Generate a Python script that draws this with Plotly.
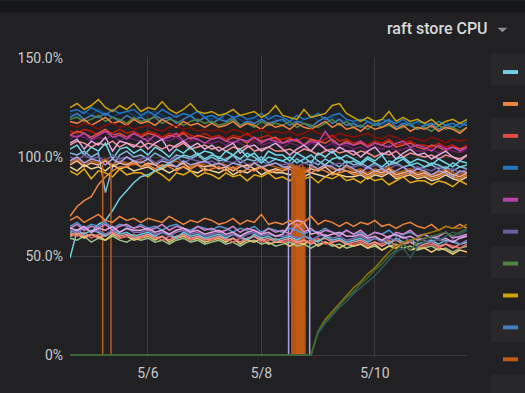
import pandas as pd
import plotly.graph_objects as go

# ---------------- data ----------------
times = pd.date_range("2019-05-04 15:00", periods=57, freq="3h")
x_tick_vals = ["2019-05-06", "2019-05-08", "2019-05-10"]
x_tick_text = ["5/6", "5/8", "5/10"]
y_tick_vals = [0, 50, 100, 150]
y_tick_text = ["0%", "50.0%", "100.0%", "150.0%"]

# upper band
yellow_top = [125, 127, 124, 126, 129, 125, 123, 126, 124, 127,
              123, 125, 124, 128, 124, 122, 124, 127, 123, 122,
              123, 121, 122, 124, 121, 122, 123, 120, 122, 126,
              121, 120, 119, 124, 120, 121, 122, 126, 127, 122,
              120, 118, 120, 118, 119, 123, 118, 120, 118, 119,
              117, 119, 116, 118, 119, 117, 119]
blue_a = [123, 124, 122, 125, 123, 121, 124, 122, 123, 124,
          121, 123, 121, 124, 122, 120, 122, 121, 123, 120,
          121, 119, 122, 120, 121, 119, 120, 122, 119, 121,
          120, 118, 121, 119, 120, 122, 119, 121, 122, 119,
          118, 119, 118, 116, 119, 118, 117, 119, 116, 118,
          117, 115, 118, 116, 117, 115, 118]
blue_dark = [122, 120, 123, 121, 124, 122, 120, 122, 123, 121,
             120, 122, 123, 121, 119, 121, 122, 120, 118, 120,
             119, 121, 118, 120, 119, 117, 120, 118, 121, 119,
             118, 120, 117, 119, 121, 118, 117, 120, 119, 118,
             116, 118, 120, 117, 116, 118, 119, 116, 118, 117,
             115, 117, 116, 118, 115, 117, 116]
blue_b = [120, 122, 119, 121, 120, 122, 120, 118, 121, 119,
          120, 118, 121, 119, 120, 117, 119, 121, 118, 120,
          117, 119, 118, 120, 116, 118, 117, 119, 117, 118,
          119, 116, 118, 117, 115, 118, 120, 117, 119, 116,
          117, 115, 118, 116, 117, 119, 115, 117, 116, 114,
          116, 117, 114, 116, 115, 117, 116]
green_a = [119, 120, 118, 119, 121, 118, 120, 119, 117, 120,
           118, 119, 120, 117, 119, 118, 116, 118, 119, 117,
           118, 116, 117, 119, 116, 117, 115, 118, 116, 117,
           116, 118, 115, 117, 116, 115, 117, 119, 116, 118,
           115, 116, 114, 117, 115, 116, 114, 115, 117, 114,
           115, 113, 116, 114, 115, 113, 115]
orange_a = [118, 117, 119, 116, 118, 120, 117, 118, 116, 119,
            117, 118, 116, 119, 117, 115, 118, 116, 117, 115,
            117, 115, 116, 118, 115, 117, 116, 114, 117, 115,
            116, 114, 117, 115, 114, 116, 118, 115, 117, 114,
            115, 113, 116, 114, 115, 117, 114, 116, 113, 115,
            114, 116, 113, 115, 114, 112, 115]
red_dark = [116, 115, 117, 116, 114, 116, 117, 115, 116, 114,
            115, 116, 114, 113, 115, 116, 114, 115, 113, 114,
            113, 114, 112, 114, 113, 111, 113, 114, 112, 113,
            112, 113, 111, 112, 114, 112, 111, 110, 112, 111,
            110, 111, 112, 110, 109, 111, 110, 108, 110, 109,
            108, 110, 109, 107, 109, 108, 109]
red_b = [113, 112, 114, 113, 111, 113, 112, 114, 112, 113,
         111, 113, 112, 110, 112, 111, 113, 111, 110, 112,
         110, 111, 109, 111, 110, 112, 109, 110, 111, 109,
         109, 110, 108, 110, 109, 107, 109, 111, 108, 109,
         107, 108, 106, 108, 107, 109, 106, 107, 108, 106,
         106, 105, 107, 105, 106, 104, 106]
red_a = [111, 113, 112, 110, 112, 114, 111, 112, 110, 112,
         110, 112, 111, 109, 111, 110, 112, 109, 111, 110,
         109, 110, 108, 110, 109, 107, 110, 108, 109, 110,
         107, 109, 108, 106, 109, 108, 107, 109, 106, 108,
         106, 107, 105, 107, 106, 108, 105, 106, 107, 105,
         104, 106, 105, 103, 105, 104, 105]
magenta_a = [111, 110, 112, 109, 111, 113, 110, 111, 109, 112,
             110, 108, 111, 109, 110, 112, 108, 110, 109, 107,
             109, 110, 108, 107, 109, 108, 110, 107, 109, 108,
             107, 108, 109, 106, 108, 107, 113, 108, 106, 107,
             106, 108, 105, 107, 106, 105, 107, 108, 105, 106,
             105, 103, 106, 104, 105, 103, 105]
magenta_dark = [109, 111, 110, 108, 110, 109, 111, 108, 110, 109,
                108, 110, 107, 109, 108, 110, 107, 108, 109, 107,
                107, 108, 106, 108, 107, 105, 108, 106, 107, 108,
                105, 107, 106, 104, 107, 106, 105, 107, 104, 106,
                104, 105, 103, 105, 104, 106, 103, 104, 105, 103,
                103, 104, 102, 104, 103, 102, 104]
pink_light = [107, 109, 104, 108, 106, 110, 103, 108, 107, 105,
              108, 104, 107, 109, 103, 106, 108, 105, 107, 104,
              106, 103, 105, 107, 102, 105, 106, 103, 105, 107,
              104, 101, 104, 106, 103, 107, 104, 102, 105, 103,
              103, 100, 103, 105, 101, 103, 99, 102, 104, 101,
              102, 99, 101, 103, 100, 98, 101]
salmon_a = [106, 108, 107, 105, 107, 106, 108, 105, 107, 106,
            105, 107, 106, 104, 106, 105, 107, 104, 105, 106,
            104, 105, 103, 105, 104, 106, 103, 104, 105, 103,
            103, 104, 102, 104, 103, 101, 103, 104, 102, 103,
            101, 103, 102, 100, 102, 101, 103, 100, 102, 101,
            100, 101, 99, 101, 100, 99, 101]
cyan_light = [104, 106, 101, 105, 103, 107, 99, 104, 105, 102,
              104, 101, 105, 103, 100, 104, 102, 105, 101, 103,
              102, 99, 103, 101, 104, 100, 102, 98, 103, 101,
              101, 98, 102, 100, 97, 102, 100, 103, 99, 101,
              99, 97, 100, 98, 101, 96, 99, 100, 97, 99,
              98, 96, 99, 97, 95, 98, 97]
cyan_ramp = [49, 63, 64, 62, 66, 68, 73, 79, 83, 87,
             90, 91, 93, 95, 97, 99, 101, 100, 102, 99,
             101, 100, 98, 101, 99, 102, 100, 97, 100, 99,
             98, 100, 97, 99, 101, 98, 96, 99, 100, 97,
             98, 96, 99, 97, 95, 98, 97, 99, 96, 97,
             95, 97, 96, 94, 97, 95, 96]
blue_light = [102, 101, 103, 100, 102, 82, 95, 101, 103, 100,
              101, 99, 102, 100, 98, 101, 100, 99, 101, 98,
              100, 98, 99, 101, 97, 99, 98, 100, 97, 99,
              98, 96, 99, 97, 98, 96, 99, 97, 95, 98,
              96, 97, 95, 97, 94, 96, 97, 95, 96, 94,
              95, 96, 94, 95, 93, 95, 94]
purple_a = [100, 98, 101, 99, 100, 98, 101, 99, 100, 98,
            99, 100, 97, 99, 98, 100, 97, 99, 98, 97,
            98, 96, 98, 97, 99, 96, 97, 98, 96, 97,
            96, 97, 95, 97, 96, 98, 95, 96, 97, 95,
            95, 96, 94, 96, 95, 94, 96, 95, 93, 95,
            94, 93, 95, 93, 94, 92, 94]
lavender = [98, 100, 97, 99, 98, 96, 99, 97, 100, 98,
            97, 99, 96, 98, 97, 95, 98, 96, 97, 98,
            96, 97, 95, 97, 96, 94, 97, 95, 96, 97,
            95, 0, 0, 0, 96, 94, 96, 95, 93, 96,
            94, 92, 95, 93, 94, 92, 93, 95, 92, 94,
            93, 91, 93, 92, 90, 93, 92]
lavender_edge_times = ["2019-05-08 11:25", "2019-05-08 11:30",
                       "2019-05-08 20:25", "2019-05-08 20:30"]
lavender_edge_vals = [95, 0, 0, 96]
orange_dark = [97, 99, 96, 98, 97, 99, 96, 98, 97, 96,
               98, 96, 97, 95, 97, 98, 96, 95, 97, 96,
               95, 97, 96, 94, 96, 95, 97, 94, 96, 95,
               94, 96, 95, 93, 95, 94, 96, 94, 93, 95,
               93, 94, 92, 94, 93, 95, 92, 93, 94, 92,
               93, 91, 92, 94, 92, 91, 93]
orange_drop_times = ["2019-05-05 04:50", "2019-05-05 08:20",
                     "2019-05-08 12:55", "2019-05-08 13:20", "2019-05-08 13:50",
                     "2019-05-08 14:15", "2019-05-08 14:45", "2019-05-08 15:10",
                     "2019-05-08 15:40", "2019-05-08 16:05", "2019-05-08 16:35",
                     "2019-05-08 17:00", "2019-05-08 17:30", "2019-05-08 17:55",
                     "2019-05-08 18:25"]
orange_drop_tops = [97, 96, 95, 96, 94, 95, 96, 94, 95, 96, 95, 94, 96, 95, 95]
orange_light = [96, 98, 95, 97, 96, 98, 95, 97, 96, 98,
                95, 97, 96, 94, 96, 95, 97, 94, 96, 95,
                96, 94, 95, 93, 95, 96, 94, 95, 93, 94,
                93, 95, 94, 92, 94, 93, 95, 92, 94, 93,
                92, 93, 91, 93, 92, 94, 91, 92, 93, 91,
                92, 90, 91, 93, 91, 90, 92]
orange_ramp = [70, 75, 78, 80, 86, 90, 93, 95, 95, 97,
               95, 96, 94, 96, 95, 93, 95, 94, 96, 93,
               94, 95, 93, 95, 92, 94, 93, 95, 92, 93,
               93, 94, 91, 93, 92, 94, 93, 91, 92, 93,
               91, 92, 90, 92, 91, 93, 90, 91, 92, 90,
               91, 89, 90, 92, 90, 89, 91]
yellow_pale = [95, 93, 96, 94, 95, 93, 96, 94, 95, 93,
               94, 95, 93, 94, 92, 94, 95, 93, 92, 94,
               93, 92, 94, 91, 93, 92, 94, 91, 93, 92,
               92, 91, 93, 90, 92, 91, 90, 92, 91, 90,
               90, 91, 89, 91, 90, 92, 89, 90, 91, 89,
               90, 88, 89, 91, 89, 88, 90]
yellow_low = [93, 91, 94, 89, 93, 92, 90, 94, 91, 92,
              92, 90, 93, 91, 88, 92, 91, 93, 90, 92,
              91, 89, 92, 90, 91, 88, 91, 90, 92, 89,
              90, 88, 91, 89, 90, 87, 90, 89, 91, 88,
              89, 87, 90, 88, 89, 86, 88, 90, 87, 88,
              88, 86, 88, 87, 85, 88, 86]

# lower band
low_orange = [68, 70, 67, 69, 71, 68, 67, 70, 68, 69,
              67, 69, 68, 67, 70, 68, 66, 68, 67, 69,
              68, 66, 67, 69, 66, 68, 67, 71, 66, 67,
              66, 68, 65, 67, 70, 66, 68, 67, 65, 67,
              65, 67, 66, 68, 65, 66, 64, 66, 67, 65,
              64, 66, 63, 65, 64, 66, 64]
low_blue = [65, 67, 64, 66, 65, 67, 64, 66, 65, 64,
            66, 64, 65, 63, 65, 66, 64, 63, 65, 64,
            63, 65, 64, 62, 64, 63, 65, 62, 64, 63,
            62, 64, 63, 61, 63, 62, 64, 62, 61, 63,
            61, 62, 60, 62, 61, 63, 60, 61, 62, 60,
            61, 59, 60, 62, 60, 59, 61]
low_pink = [64, 66, 63, 65, 64, 66, 63, 65, 66, 64,
            65, 63, 64, 66, 63, 65, 64, 62, 65, 63,
            64, 62, 63, 65, 62, 64, 63, 61, 64, 62,
            63, 61, 66, 62, 64, 61, 63, 62, 60, 63,
            61, 63, 60, 62, 61, 59, 62, 61, 63, 60,
            61, 59, 60, 62, 59, 60, 61]
low_purple = [63, 62, 64, 62, 63, 61, 63, 62, 64, 62,
              62, 63, 61, 62, 60, 62, 63, 61, 62, 60,
              61, 62, 60, 61, 59, 61, 62, 60, 61, 60,
              60, 61, 59, 60, 58, 60, 61, 59, 60, 58,
              59, 60, 58, 59, 57, 59, 58, 60, 57, 59,
              58, 57, 59, 57, 58, 56, 58]
low_red = [61, 60, 62, 59, 61, 60, 62, 59, 60, 61,
           59, 61, 60, 58, 60, 59, 61, 58, 60, 59,
           58, 60, 59, 57, 59, 58, 60, 57, 58, 59,
           57, 58, 56, 58, 57, 59, 56, 57, 58, 56,
           56, 57, 55, 57, 56, 58, 55, 56, 57, 55,
           55, 56, 54, 56, 55, 54, 56]
low_green = [59, 58, 60, 57, 59, 58, 60, 58, 57, 59,
             58, 59, 57, 58, 56, 58, 59, 57, 58, 56,
             57, 58, 56, 57, 55, 57, 58, 56, 57, 55,
             56, 57, 55, 56, 54, 56, 57, 55, 56, 54,
             55, 56, 54, 55, 53, 55, 56, 54, 55, 53,
             54, 55, 53, 54, 52, 54, 55]
low_yellow = [60, 61, 59, 61, 60, 58, 61, 59, 60, 58,
              59, 60, 58, 60, 57, 59, 60, 58, 59, 57,
              58, 59, 57, 59, 56, 58, 57, 59, 56, 57,
              57, 55, 57, 56, 58, 55, 57, 56, 54, 56,
              55, 56, 54, 56, 53, 55, 54, 56, 53, 54,
              54, 52, 54, 53, 51, 53, 52]
low_cyan = [62, 63, 61, 63, 62, 60, 63, 61, 62, 60,
            61, 62, 60, 62, 61, 59, 62, 60, 61, 59,
            60, 61, 59, 61, 60, 58, 61, 59, 60, 58,
            59, 60, 58, 60, 59, 57, 60, 58, 59, 57,
            58, 59, 57, 59, 58, 56, 59, 57, 58, 56,
            57, 58, 56, 58, 57, 56, 57]
low_pink_light = [64, 63, 65, 62, 64, 63, 65, 62, 64, 63,
                  63, 64, 62, 63, 61, 63, 64, 62, 63, 61,
                  62, 63, 61, 62, 60, 62, 63, 61, 62, 60,
                  61, 66, 68, 67, 61, 62, 60, 61, 62, 60,
                  60, 61, 59, 60, 58, 60, 61, 59, 60, 58,
                  59, 60, 58, 59, 57, 59, 60]
low_salmon = [61, 62, 60, 61, 59, 61, 62, 60, 61, 59,
              60, 61, 59, 60, 58, 60, 61, 59, 60, 58,
              59, 60, 58, 59, 57, 59, 60, 58, 59, 57,
              58, 59, 57, 58, 56, 58, 59, 57, 58, 56,
              57, 58, 56, 57, 55, 57, 58, 56, 57, 55,
              56, 57, 55, 56, 54, 56, 57]

# stores that restarted and ramp up
ramp_olive = [0, 0, 0, 0, 0, 0, 0, 0, 0, 0,
              0, 0, 0, 0, 0, 0, 0, 0, 0, 0,
              0, 0, 0, 0, 0, 0, 0, 0, 0, 0,
              0, 0, 0, 0, 0, 12, 18, 22, 26, 30,
              34, 37, 41, 44, 48, 52, 55, 57, 58, 59,
              61, 62, 63, 65, 64, 64, 66]
ramp_teal = [0, 0, 0, 0, 0, 0, 0, 0, 0, 0,
             0, 0, 0, 0, 0, 0, 0, 0, 0, 0,
             0, 0, 0, 0, 0, 0, 0, 0, 0, 0,
             0, 0, 0, 0, 0, 11, 16, 20, 24, 27,
             31, 34, 37, 40, 44, 48, 52, 54, 49, 55,
             57, 59, 58, 60, 62, 61, 63]
ramp_green = [0, 0, 0, 0, 0, 0, 0, 0, 0, 0,
              0, 0, 0, 0, 0, 0, 0, 0, 0, 0,
              0, 0, 0, 0, 0, 0, 0, 0, 0, 0,
              0, 0, 0, 0, 0, 12, 17, 21, 25, 29,
              32, 36, 39, 43, 46, 50, 53, 56, 53, 57,
              59, 60, 61, 62, 60, 62, 64]

legend_colors = ["#6ED0E0", "#EF843C", "#E24D42", "#1F78C1", "#BA43A9",
                 "#705DA0", "#508642", "#CCA300", "#447EBC", "#C15C17"]

# ---------------- styles ----------------
series = [
    ("blue_dark", blue_dark, "#0A437C"),
    ("blue_b", blue_b, "#447EBC"),
    ("green_a", green_a, "#508642"),
    ("blue_a", blue_a, "#1F78C1"),
    ("orange_a", orange_a, "#EF843C"),
    ("yellow_top", yellow_top, "#CCA300"),
    ("red_dark", red_dark, "#890F02"),
    ("red_b", red_b, "#BF1B00"),
    ("red_a", red_a, "#E24D42"),
    ("magenta_dark", magenta_dark, "#6D1F62"),
    ("magenta_a", magenta_a, "#BA43A9"),
    ("salmon_a", salmon_a, "#F29191"),
    ("pink_light", pink_light, "#E5A8E2"),
    ("cyan_light", cyan_light, "#70DBED"),
    ("blue_light", blue_light, "#82B5D8"),
    ("purple_a", purple_a, "#705DA0"),
    ("orange_dark", orange_dark, "#C15C17"),
    ("orange_light", orange_light, "#F9BA8F"),
    ("yellow_pale", yellow_pale, "#F4D598"),
    ("orange_ramp", orange_ramp, "#EF843C"),
    ("yellow_low", yellow_low, "#E5AC0E"),
    ("cyan_ramp", cyan_ramp, "#6ED0E0"),
]
lower = [
    ("low_green", low_green, "#9AC48A"),
    ("low_yellow", low_yellow, "#F2C96D"),
    ("low_red", low_red, "#EA6460"),
    ("low_salmon", low_salmon, "#F29191"),
    ("low_cyan", low_cyan, "#65C5DB"),
    ("low_purple", low_purple, "#806EB7"),
    ("low_blue", low_blue, "#5195CE"),
    ("low_pink", low_pink, "#D683CE"),
    ("low_pink_light", low_pink_light, "#E5A8E2"),
    ("low_orange", low_orange, "#EF843C"),
]
ramps = [
    ("ramp_olive", ramp_olive, "#967302"),
    ("ramp_teal", ramp_teal, "#2F575E"),
    ("ramp_green", ramp_green, "#3F6833"),
]
for name, vals, _ in series + lower + ramps + [("lavender", lavender, "")]:
    assert len(vals) == len(times), (name, len(vals))

LW = 1.5
fig = go.Figure()


def add(name, xs, ys, color):
    fig.add_trace(go.Scatter(x=xs, y=ys, mode="lines", name=name,
                             line=dict(color=color, width=LW),
                             showlegend=False, hoverinfo="skip"))


for name, vals, color in series:
    add(name, times, vals, color)

# lavender store with an outage on 5/8
lav = pd.concat([
    pd.DataFrame({"t": times, "v": lavender}),
    pd.DataFrame({"t": pd.to_datetime(lavender_edge_times), "v": lavender_edge_vals}),
]).sort_values("t")
add("lavender", lav["t"], lav["v"], "#AEA2E0")

# dark orange store flapping to zero
dx, dy = [], []
for t, top in zip(orange_drop_times, orange_drop_tops):
    dx += [t, t, None]
    dy += [top, 0, None]
add("orange_dark_drops", dx, dy, "#C15C17")

for name, vals, color in lower:
    add(name, times, vals, color)
for name, vals, color in ramps:
    add(name, times, vals, color)

# ---------------- layout ----------------
W, H = 525, 393
L, R, T, B = 70, 58, 57, 31
PW, PH = W - L - R, H - T - B


def px_x(px):
    return (px - L) / PW


def px_y(py):
    return (H - B - py) / PH


BG = "#212124"
GRID = "#3a3a3d"
TXT = "#c8c9cc"
FONT = "Roboto, 'Noto Sans', sans-serif"

shapes = [dict(type="rect", xref="paper", yref="paper",
               x0=px_x(0), x1=px_x(W), y0=px_y(0), y1=px_y(11.5),
               fillcolor="#161719", line=dict(width=0), layer="below")]
for k in range(6):
    top = 53.3 + 65.3 * k
    shapes.append(dict(type="rect", xref="paper", yref="paper",
                       x0=px_x(491), x1=px_x(W), y0=px_y(top), y1=px_y(top + 32.4),
                       fillcolor="#28282b", line=dict(width=0), layer="below"))
for k, c in enumerate(legend_colors):
    cy = 72.3 + 32.45 * k
    shapes.append(dict(type="rect", xref="paper", yref="paper",
                       x0=px_x(503), x1=px_x(518), y0=px_y(cy - 2), y1=px_y(cy + 2),
                       fillcolor=c, line=dict(width=0)))
shapes.append(dict(type="path", xref="paper", yref="paper",
                   path="M {} {} L {} {} L {} {} Z".format(
                       px_x(497.5), px_y(27.3), px_x(507.3), px_y(27.3),
                       px_x(502.4), px_y(31.8)),
                   fillcolor="#8e8e8e", line=dict(width=0)))

fig.update_layout(
    width=W, height=H,
    margin=dict(l=L, r=R, t=T, b=B, pad=0),
    paper_bgcolor=BG, plot_bgcolor=BG,
    showlegend=False,
    font=dict(family=FONT, color=TXT, size=14),
    shapes=shapes,
    annotations=[dict(text="raft store CPU", xref="paper", yref="paper",
                      x=px_x(490), y=px_y(28.5), xanchor="right", yanchor="middle",
                      showarrow=False,
                      font=dict(family=FONT, size=16, color="#d8d9da", weight=500))],
    xaxis=dict(type="date", range=[times[0], times[-1]],
               tickvals=x_tick_vals, ticktext=x_tick_text,
               showgrid=True, gridcolor=GRID, gridwidth=1,
               zeroline=False, showline=False, ticks="",
               ticklabelstandoff=6, tickfont=dict(size=14, color=TXT)),
    yaxis=dict(range=[-1, 150.5], tickvals=y_tick_vals, ticktext=y_tick_text,
               showgrid=True, gridcolor=GRID, gridwidth=1,
               zeroline=False, showline=False, ticks="",
               ticklabelstandoff=6, tickfont=dict(size=14, color=TXT)),
)

fig.write_html(
    "out.html",
    config={"displayModeBar": False},
    post_script="document.body.style.margin='0';document.body.style.background='#212124';",
)
